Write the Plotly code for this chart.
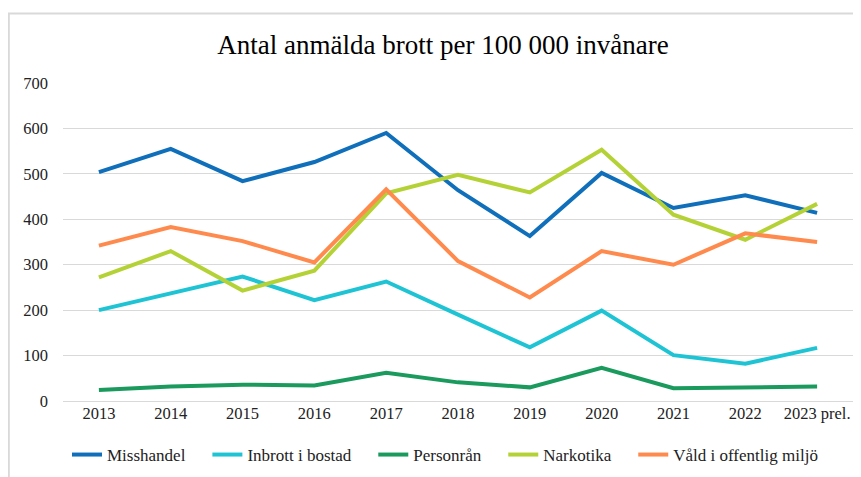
import plotly.graph_objects as go

years = ["2013", "2014", "2015", "2016", "2017", "2018", "2019", "2020", "2021", "2022", "2023 prel."]

misshandel = [504, 555, 484, 526, 590, 464, 363, 502, 425, 453, 414]
inbrott = [200, 238, 274, 222, 263, 190, 118, 199, 101, 82, 117]
personran = [24, 32, 36, 34, 62, 41, 30, 73, 28, 30, 32]
narkotika = [272, 330, 243, 287, 457, 498, 459, 553, 410, 355, 434]
vald = [342, 383, 352, 305, 466, 308, 228, 330, 300, 369, 350]

series = [
    ("Misshandel", misshandel, "#0f6fba"),
    ("Inbrott i bostad", inbrott, "#1fc4d4"),
    ("Personrån", personran, "#1b9a5e"),
    ("Narkotika", narkotika, "#b4d236"),
    ("Våld i offentlig miljö", vald, "#ff8a4d"),
]

FONT = "Liberation Serif, Times New Roman, serif"
W, H = 853, 469  # page has an 8px body margin

fig = go.Figure()

pad = "\u00a0" * 4
for i, (name, vals, color) in enumerate(series):
    fig.add_trace(go.Scatter(
        x=years,
        y=vals,
        mode="lines",
        name=name + (pad if i < len(series) - 1 else ""),
        line=dict(color=color, width=4)
    ))

fig.update_layout(
    width=W,
    height=H,
    paper_bgcolor="white",
    plot_bgcolor="white",
    margin=dict(l=55, r=8, t=75, b=76),
    font=dict(family=FONT, size=16, color="#222222"),
    title=dict(
        text="Antal anmälda brott per 100 000 invånare",
        font=dict(family=FONT, size=27, color="#000000"),
        x=435 / W,
        xanchor="center",
        xref="container",
        y=(H - 37) / H,
        yanchor="middle",
        yref="container"
    ),
    xaxis=dict(
        type="category",
        showgrid=False,
        showline=False,
        ticks="",
        tickfont=dict(size=16.5),
        range=[-0.5, 10.5],
        automargin=False
    ),
    yaxis=dict(
        range=[0, 700],
        dtick=100,
        showgrid=True,
        gridcolor="#d9d9d9",
        gridwidth=1,
        zeroline=True,
        zerolinecolor="#d9d9d9",
        zerolinewidth=1,
        ticks="",
        tickfont=dict(size=16.5),
        ticklabelstandoff=14,
        automargin=False
    ),
    legend=dict(
        orientation="h",
        x=437 / W,
        xanchor="center",
        xref="container",
        y=(H - 447) / H,
        yanchor="middle",
        yref="container",
        font=dict(size=17),
        tracegroupgap=0
    ),
    shapes=[
        dict(
            type="rect",
            xref="paper",
            yref="paper",
            x0=-0.0686,
            x1=1.05,
            y0=-0.4,
            y1=1.2186,
            line=dict(color="#d9d9d9", width=2),
            layer="below"
        )
    ]
)

fig.write_html("out.html")
